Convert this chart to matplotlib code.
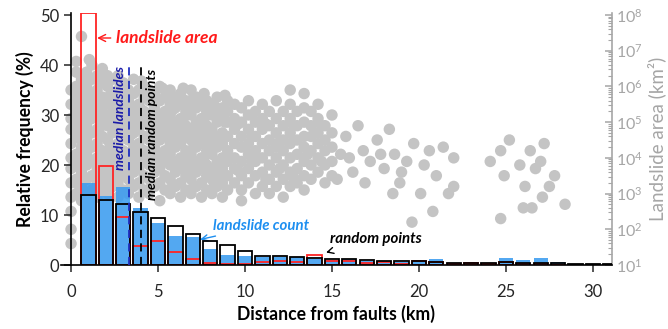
import numpy as np
import matplotlib.pyplot as plt
from matplotlib.ticker import LogLocator, NullFormatter

plt.rcParams['font.family'] = ['Lato', 'DejaVu Sans']

# 1 km distance bins (bar centres)
dist_bins = np.arange(1, 32)

# relative frequency (%) per bin
landslide_count = [16.5, 13.8, 15.7, 11.5, 8.5, 5.9, 5.7, 3.3, 2.1, 1.8, 1.7, 1.7, 1.6, 1.3, 1.1, 1.2,
                   0.8, 0.4, 0.6, 0.6, 1.3, 0.5, 0.3, 0.3, 1.5, 1.1, 1.5, 0.7, 0.1, 0.1, 0.0]
random_points = [14.0, 13.1, 12.2, 10.7, 9.5, 7.9, 6.3, 4.8, 4.1, 2.9, 1.9, 1.9, 1.7, 1.5, 1.3, 1.3,
                 1.0, 0.9, 0.8, 0.8, 0.6, 0.5, 0.5, 0.4, 0.6, 0.5, 0.5, 0.4, 0.3, 0.3, 0.2]
landslide_area = [50.5, 19.9, 9.7, 3.9, 4.9, 2.6, 1.3, 0.5, 0.3, 0.3, 0.7, 0.9, 0.7, 2.0, 0.9, 0.8,
                  0.4, 0.6, 0.2, 0.9, 0.7, 0.3, 0.4, 0.2, 0.7, 0.3, 0.2, 0.1, 0.05, 0.05, 0.0]

median_landslides = 3.33
median_random = 4.0

# individual landslides: (distance km, log10 area)
pts_near = [
    (0.0, 1.6), (0.0, 2.0), (0.0, 2.5), (0.0, 2.9), (0.0, 3.3), (0.0, 3.7), (0.0, 4.0), (0.0, 4.4),
    (0.0, 4.8), (0.0, 5.1), (0.0, 5.5), (0.0, 5.9),
    (0.3, 3.0), (0.3, 3.4), (0.3, 3.8), (0.3, 4.1), (0.3, 4.6), (0.3, 4.9), (0.3, 5.3), (0.3, 5.7),
    (0.3, 6.0), (0.3, 6.4), (0.3, 6.7),
    (0.6, 2.8), (0.6, 3.2), (0.6, 3.6), (0.6, 3.9), (0.6, 4.3), (0.6, 4.7), (0.6, 5.1), (0.6, 5.5),
    (0.6, 5.8), (0.6, 6.2), (0.6, 7.4),
    (0.9, 3.0), (0.9, 3.4), (0.9, 3.8), (0.9, 4.1), (0.9, 4.5), (0.9, 4.9), (0.9, 5.3), (0.9, 5.6),
    (0.9, 6.0), (0.9, 6.4),
    (1.2, 3.1), (1.2, 3.5), (1.2, 3.9), (1.2, 4.3), (1.2, 4.7), (1.2, 5.1), (1.2, 5.4), (1.2, 5.8),
    (1.2, 6.2), (1.2, 6.6),
    (1.5, 2.9), (1.5, 3.3), (1.5, 3.7), (1.5, 4.0), (1.5, 4.4), (1.5, 4.8), (1.5, 5.2), (1.5, 5.6),
    (1.5, 5.9), (1.5, 6.3),
    (1.8, 3.1), (1.8, 3.5), (1.8, 3.9), (1.8, 4.2), (1.8, 4.6), (1.8, 5.0), (1.8, 5.4), (1.8, 5.7),
    (1.8, 6.1), (1.8, 6.5),
    (2.1, 3.0), (2.1, 3.3), (2.1, 3.7), (2.1, 4.1), (2.1, 4.5), (2.1, 4.9), (2.1, 5.2), (2.1, 5.6),
    (2.1, 6.0), (2.1, 6.3),
    (2.4, 3.2), (2.4, 3.5), (2.4, 3.9), (2.4, 4.3), (2.4, 4.7), (2.4, 5.0), (2.4, 5.4), (2.4, 5.8),
    (2.4, 6.2),
    (2.7, 2.9), (2.7, 3.3), (2.7, 3.7), (2.7, 4.1), (2.7, 4.4), (2.7, 4.8), (2.7, 5.2), (2.7, 5.6),
    (2.7, 5.9), (2.7, 6.3),
    (3.0, 3.1), (3.0, 3.5), (3.0, 3.9), (3.0, 4.2), (3.0, 4.6), (3.0, 5.0), (3.0, 5.4), (3.0, 5.7),
    (3.0, 6.1),
    (3.3, 3.0), (3.3, 3.4), (3.3, 3.7), (3.3, 4.1), (3.3, 4.5), (3.3, 4.8), (3.3, 5.2), (3.3, 5.6),
    (3.3, 5.9),
    (3.6, 3.2), (3.6, 3.6), (3.6, 3.9), (3.6, 4.3), (3.6, 4.7), (3.6, 5.0), (3.6, 5.4), (3.6, 5.8),
    (3.6, 6.2),
    (3.9, 2.9), (3.9, 3.3), (3.9, 3.7), (3.9, 4.1), (3.9, 4.4), (3.9, 4.8), (3.9, 5.2), (3.9, 5.5),
    (3.9, 5.9),
    (4.2, 3.1), (4.2, 3.5), (4.2, 3.9), (4.2, 4.2), (4.2, 4.6), (4.2, 5.0), (4.2, 5.3), (4.2, 5.7),
    (4.2, 6.0),
    (4.5, 3.0), (4.5, 3.4), (4.5, 3.8), (4.5, 4.1), (4.5, 4.5), (4.5, 4.9), (4.5, 5.2), (4.5, 5.6),
    (4.5, 5.9),
    (4.8, 3.2), (4.8, 3.6), (4.8, 3.9), (4.8, 4.3), (4.8, 4.7), (4.8, 5.0), (4.8, 5.4), (4.8, 5.8),
    (5.1, 2.8), (5.1, 3.3), (5.1, 3.7), (5.1, 4.1), (5.1, 4.5), (5.1, 4.8), (5.1, 5.2), (5.1, 5.6),
    (5.1, 6.0),
    (5.4, 3.1), (5.4, 3.5), (5.4, 3.9), (5.4, 4.2), (5.4, 4.6), (5.4, 5.0), (5.4, 5.3), (5.4, 5.7),
    (5.7, 3.0), (5.7, 3.4), (5.7, 3.8), (5.7, 4.1), (5.7, 4.4), (5.7, 4.8), (5.7, 5.2), (5.7, 5.5),
    (5.7, 5.9),
    (6.0, 3.2), (6.0, 3.6), (6.0, 3.9), (6.0, 4.3), (6.0, 4.6), (6.0, 5.0), (6.0, 5.4), (6.0, 5.7),
    (6.3, 2.9), (6.3, 3.3), (6.3, 3.7), (6.3, 4.0), (6.3, 4.4), (6.3, 4.8), (6.3, 5.1), (6.3, 5.5),
    (6.3, 5.8),
    (6.6, 3.1), (6.6, 3.5), (6.6, 3.9), (6.6, 4.2), (6.6, 4.6), (6.6, 4.9), (6.6, 5.3), (6.6, 5.6),
    (6.9, 3.0), (6.9, 3.4), (6.9, 3.7), (6.9, 4.1), (6.9, 4.5), (6.9, 4.8), (6.9, 5.2), (6.9, 5.5),
    (6.9, 5.9),
    (7.2, 3.2), (7.2, 3.6), (7.2, 3.9), (7.2, 4.3), (7.2, 4.6), (7.2, 5.0), (7.2, 5.4), (7.2, 5.7),
    (7.5, 2.9), (7.5, 3.3), (7.5, 3.7), (7.5, 4.0), (7.5, 4.4), (7.5, 4.8), (7.5, 5.1), (7.5, 5.5),
    (7.8, 3.1), (7.8, 3.5), (7.8, 3.8), (7.8, 4.2), (7.8, 4.6), (7.8, 4.9), (7.8, 5.3), (7.8, 5.6),
    (8.1, 3.0), (8.1, 3.4), (8.1, 3.7), (8.1, 4.1), (8.1, 4.4), (8.1, 4.8), (8.1, 5.2), (8.1, 5.5),
    (8.4, 3.2), (8.4, 3.5), (8.4, 3.9), (8.4, 4.3), (8.4, 4.6), (8.4, 5.0), (8.4, 5.3), (8.4, 5.7),
    (8.7, 2.9), (8.7, 3.3), (8.7, 3.7), (8.7, 4.0), (8.7, 4.4), (8.7, 4.7), (8.7, 5.1), (8.7, 5.4),
]
pts_near_extra = [
    (0.45, 3.25), (0.45, 4.55), (0.45, 5.95), (1.05, 3.95), (1.05, 5.2), (1.05, 6.75),
    (1.65, 3.5), (1.65, 4.85), (1.65, 6.1), (2.25, 3.15), (2.25, 4.3), (2.25, 5.75),
    (2.85, 3.85), (2.85, 5.05), (2.85, 6.05), (3.45, 3.2), (3.45, 4.65), (3.45, 5.4),
    (4.05, 3.95), (4.05, 5.35), (4.05, 6.15), (4.65, 3.25), (4.65, 4.7), (4.65, 5.75),
    (5.25, 3.9), (5.25, 5.0), (5.25, 5.95), (5.85, 3.25), (5.85, 4.6), (5.85, 5.35),
    (6.45, 3.85), (6.45, 5.0), (6.45, 5.95), (7.05, 3.2), (7.05, 4.3), (7.05, 5.7),
    (7.65, 3.9), (7.65, 5.0), (7.65, 5.8), (8.25, 3.25), (8.25, 4.55), (8.25, 5.45),
    (8.85, 3.9), (8.85, 5.0), (8.85, 5.75),
]
pts_mid = [
    (9.0, 3.1), (9.0, 3.5), (9.0, 3.9), (9.0, 4.2), (9.0, 4.6), (9.0, 5.0), (9.0, 5.3), (9.0, 5.6),
    (9.4, 3.3), (9.4, 3.7), (9.4, 4.0), (9.4, 4.4), (9.4, 4.8), (9.4, 5.1), (9.4, 5.5),
    (9.8, 2.8), (9.8, 3.1), (9.8, 3.5), (9.8, 3.9), (9.8, 4.3), (9.8, 4.6), (9.8, 5.0), (9.8, 5.4),
    (10.2, 3.3), (10.2, 3.7), (10.2, 4.1), (10.2, 4.4), (10.2, 4.8), (10.2, 5.2), (10.2, 5.6),
    (10.6, 3.0), (10.6, 3.5), (10.6, 3.9), (10.6, 4.2), (10.6, 4.6), (10.6, 5.0), (10.6, 5.3),
    (11.0, 3.2), (11.0, 3.6), (11.0, 4.0), (11.0, 4.4), (11.0, 4.8), (11.0, 5.1), (11.0, 5.5),
    (11.4, 3.0), (11.4, 3.4), (11.4, 3.8), (11.4, 4.2), (11.4, 4.5), (11.4, 4.9), (11.4, 5.3),
    (11.8, 3.2), (11.8, 3.6), (11.8, 4.0), (11.8, 4.3), (11.8, 4.7), (11.8, 5.1), (11.8, 5.6),
    (12.2, 2.9), (12.2, 3.4), (12.2, 3.8), (12.2, 4.2), (12.2, 4.5), (12.2, 4.9), (12.2, 5.3),
    (12.6, 3.2), (12.6, 3.6), (12.6, 4.0), (12.6, 4.4), (12.6, 4.7), (12.6, 5.1), (12.6, 5.5), (12.6, 5.9),
    (13.0, 3.3), (13.0, 3.7), (13.0, 4.1), (13.0, 4.5), (13.0, 4.9), (13.0, 5.3),
    (13.4, 3.1), (13.4, 3.5), (13.4, 3.9), (13.4, 4.3), (13.4, 4.6), (13.4, 5.0), (13.4, 5.4), (13.4, 5.8),
    (13.8, 3.4), (13.8, 3.8), (13.8, 4.2), (13.8, 4.6), (13.8, 4.9), (13.8, 5.3),
    (14.2, 3.6), (14.2, 4.0), (14.2, 4.4), (14.2, 4.7), (14.2, 5.1), (14.2, 5.5),
    (14.6, 3.3), (14.6, 3.8), (14.6, 4.2), (14.6, 4.5), (14.6, 4.9),
    (15.0, 3.5), (15.0, 3.9), (15.0, 4.3), (15.0, 4.7), (15.0, 5.2),
    (9.6, 3.65), (9.6, 4.95), (10.4, 3.9), (10.4, 4.6), (11.2, 3.4), (11.2, 4.95),
    (12.0, 3.7), (12.0, 4.45), (12.8, 3.45), (12.8, 4.9), (13.6, 4.1), (14.4, 3.9), (14.4, 4.9),
]
pts_far = [
    (15.5, 4.1), (15.8, 4.6), (16.2, 3.6), (16.5, 4.9), (16.8, 4.2), (17.2, 3.9), (17.6, 4.5),
    (18.0, 3.7), (18.3, 4.8), (18.6, 4.1), (18.9, 3.3), (19.0, 3.6), (19.6, 2.2), (19.7, 4.4),
    (20.1, 3.0), (20.3, 3.8), (20.6, 4.2), (20.8, 2.5), (21.0, 3.5), (21.7, 3.0), (22.0, 3.2),
    (22.0, 4.0), (15.3, 3.4), (16.0, 4.0), (16.9, 3.3), (17.8, 4.1), (18.5, 3.0), (19.3, 3.9),
    (21.4, 4.3),
    (24.1, 3.9), (24.7, 4.2), (24.9, 3.5), (25.2, 4.5), (25.8, 3.8), (26.1, 3.2), (26.4, 4.2),
    (26.7, 3.7), (27.0, 3.9), (27.2, 4.4), (27.5, 3.2), (27.1, 2.9), (26.5, 2.6), (26.0, 2.6),
    (24.7, 2.3), (28.4, 2.7), (27.8, 3.5),
]

scatter_dist, scatter_log = np.array(pts_near + pts_near_extra + pts_mid + pts_far).T

fig = plt.figure(figsize=(6.68, 3.29), dpi=100)
ax = fig.add_axes([60.6 / 668, 64 / 329, 551.4 / 668, 252.5 / 329])
ax2 = ax.twinx()
ax.set_zorder(2)
ax.patch.set_visible(False)
ax2.set_zorder(1)

# landslide area on the right (log) axis
ax2.scatter(scatter_dist, 10.0 ** scatter_log, s=68, color='#c4c4c4', edgecolors='none', zorder=1)
ax2.set_yscale('log')
ax2.set_ylim(10, 10 ** 8.07)

# bars
w = 0.82
ax.bar(dist_bins, random_points, w, color='white', edgecolor='none', zorder=1)
ax.bar(dist_bins, landslide_count, w, color='#3b9cf0', alpha=0.88, edgecolor='none', zorder=2)
ax.bar(dist_bins, landslide_area, w, facecolor='none', edgecolor='#ff2424', lw=1.3, zorder=3)
ax.bar(dist_bins, random_points, w, facecolor='none', edgecolor='black', lw=1.3, zorder=4)

# medians
ax.plot([median_landslides] * 2, [0, 40.5], color='#1f2fbf', lw=1.3, ls=(0, (4.5, 3)), zorder=5)
ax.plot([median_random] * 2, [0, 40.5], color='black', lw=1.3, ls=(0, (4.5, 3)), zorder=5)

txt = dict(style='italic', fontweight='bold')
ax.text(2.82, 29.3, 'median landslides', color='#1a1aa8', rotation=90, ha='center', va='center',
        fontsize=10, **txt)
ax.text(4.68, 26.2, 'median random points', color='black', rotation=90, ha='center', va='center',
        fontsize=10, **txt)
ax.annotate('landslide area', xy=(1.5, 45.4), xytext=(2.6, 45.4), color='#ff1a1a', va='center',
            fontsize=12.5, arrowprops=dict(arrowstyle='->', color='#ff1a1a', lw=1.0, shrinkA=2, shrinkB=0),
            **txt)
ax.annotate('landslide count', xy=(7.42, 5.1), xytext=(8.15, 7.8), color='#1e8ff0', va='center',
            fontsize=10.8, arrowprops=dict(arrowstyle='->', color='#1e8ff0', lw=1.0, shrinkA=1, shrinkB=0),
            **txt)
ax.annotate('random points', xy=(14.66, 2.5), xytext=(14.9, 5.3), color='black', va='center',
            fontsize=10.8, arrowprops=dict(arrowstyle='->', color='black', lw=1.0, shrinkA=9, shrinkB=0),
            **txt)

ax.set_xlim(-0.6, 31.1)
ax.set_ylim(0, 50.5)
ax.spines['left'].set_position(('data', 0))
for s in ('top', 'right'):
    ax.spines[s].set_visible(False)
for s in ('top', 'left', 'bottom'):
    ax2.spines[s].set_visible(False)
ax.spines['left'].set_linewidth(1.2)
ax.spines['bottom'].set_linewidth(1.2)
ax2.spines['right'].set_color('#a6a6a6')
ax2.spines['right'].set_linewidth(1.2)

ax.set_xticks(range(0, 31, 5))
ax.set_yticks(range(0, 51, 10))
ax.tick_params(axis='both', direction='out', length=5, width=1.1, labelsize=12, colors='#262626')
ax.tick_params(axis='x', pad=9)
ax2.yaxis.set_major_locator(LogLocator(base=10, numticks=10))
ax2.yaxis.set_minor_locator(LogLocator(base=10, subs=np.arange(2, 10), numticks=10))
ax2.yaxis.set_minor_formatter(NullFormatter())
ax2.tick_params(axis='y', which='major', direction='in', length=5, width=1.1, colors='#a6a6a6',
                labelsize=11.5, pad=3)
ax2.tick_params(axis='y', which='minor', direction='in', length=3, width=0.8, colors='#a6a6a6')

ax.set_xlabel('Distance from faults (km)', fontsize=12.7, fontweight='bold', labelpad=3)
ax.set_ylabel('Relative frequency (%)', fontsize=12.7, fontweight='bold', labelpad=4)
ax2.set_ylabel('Landslide area (km²)', fontsize=13.5, color='#a6a6a6', labelpad=3)

fig.savefig('out.png', dpi=100)
